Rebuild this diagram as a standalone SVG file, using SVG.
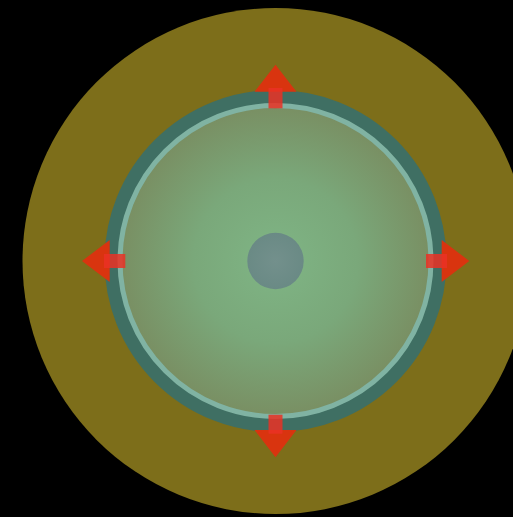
<svg xmlns="http://www.w3.org/2000/svg" width="513" height="517" viewBox="0 0 513 517">
<defs>
<radialGradient id="core" cx="0.5" cy="0.5" r="0.5">
<stop offset="0" stop-color="#7fb585"/>
<stop offset="0.5" stop-color="#7aa87a"/>
<stop offset="1" stop-color="#798c60"/>
</radialGradient>
<radialGradient id="hub" cx="0.5" cy="0.5" r="0.5">
<stop offset="0" stop-color="#73908c"/>
<stop offset="1" stop-color="#6a8a85"/>
</radialGradient>
<style>
.head{fill:#d9340f}
.shaft{fill:#ea3124;fill-opacity:0.85}
</style>
</defs>
<rect width="513" height="517" fill="#000"/>
<g id="outer"><circle cx="275.5" cy="261" r="253" fill="#7d6e1a"/></g>
<g id="ring">
<circle cx="275.5" cy="261" r="164" fill="url(#core)" stroke="#3f6f63" stroke-width="14"/>
<circle cx="275.5" cy="261" r="155.5" fill="none" stroke="#80b3a3" stroke-width="5"/>
</g>
<g id="hub-node"><circle cx="275.5" cy="261" r="28.2" fill="url(#hub)"/></g>
<g id="connectors">
<g id="arrow-up">
<polygon class="head" points="275.5,64.7 254.5,91.7 296.5,91.7"/>
<rect class="shaft" x="268.5" y="88" width="14" height="20.3"/>
</g>
<g id="arrow-down">
<polygon class="head" points="275.5,457.3 254.5,430 296.5,430"/>
<rect class="shaft" x="268.5" y="414.7" width="14" height="19"/>
</g>
<g id="arrow-left">
<polygon class="head" points="82,261 109.7,240 109.7,282"/>
<rect class="shaft" x="104" y="254" width="21.3" height="14"/>
</g>
<g id="arrow-right">
<polygon class="head" points="469.3,261 441.7,240 441.7,282"/>
<rect class="shaft" x="426" y="254" width="21" height="14"/>
</g>
</g>
</svg>
